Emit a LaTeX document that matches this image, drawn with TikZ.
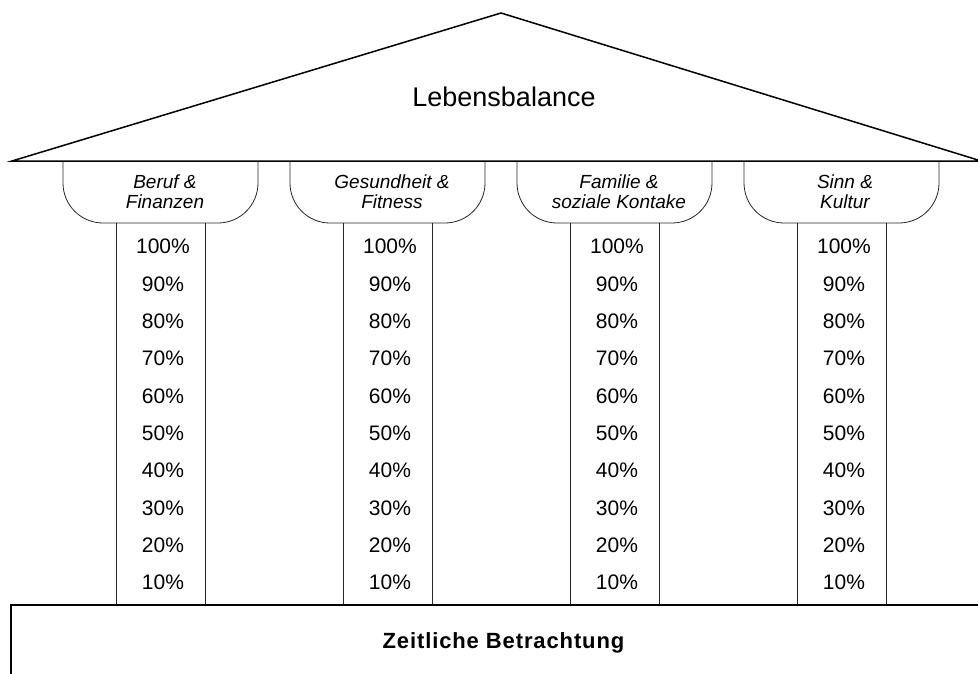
\documentclass[tikz,border=0pt]{standalone}
\usepackage{fontspec}
\setmainfont{Liberation Sans}
\usetikzlibrary{matrix, positioning}

\begin{document}
\begin{tikzpicture}[x=1pt, y=-1pt,
		heavy/.style={line width=1.5pt},
		pillarline/.style={line width=0.8pt, black!85},
		captext/.style={align=center, inner sep=0pt, font=\fontsize{19}{20}\selectfont\itshape}]
		\useasboundingbox (0,0) rectangle (978,673);
		\clip (0,0) rectangle (978,673);
		
		\draw[heavy] (978,160) -- (501,13) -- (12,161) -- (980,161);
		\node[inner sep=0pt, font=\fontsize{27}{30}\selectfont] (roof) at (504,97) {Lebensbalance};
		
		\draw[pillarline, rounded corners=40pt] (63,161) -- (63,223) -- (258,223) -- (258,161);
		\draw[pillarline, rounded corners=40pt] (290,161) -- (290,223) -- (485,223) -- (485,161);
		\draw[pillarline, rounded corners=40pt] (517,161) -- (517,223) -- (712,223) -- (712,161);
		\draw[pillarline, rounded corners=40pt] (744,161) -- (744,223) -- (939,223) -- (939,161);
		
		\draw[pillarline] (116,223) -- (116,605) (205,223) -- (205,605);
		\draw[pillarline] (343,223) -- (343,605) (432,223) -- (432,605);
		\draw[pillarline] (570,223) -- (570,605) (659,223) -- (659,605);
		\draw[pillarline] (797,223) -- (797,605) (886,223) -- (886,605);
		
		\node[captext] (cap1) at (165,192) {Beruf \&\\Finanzen};
		\node[captext] (cap2) at (392,192) {Gesundheit \&\\Fitness};
		\node[captext] (cap3) at (619,192) {Familie \&\\soziale Kontake};
		\node[captext] (cap4) at (845,192) {Sinn \&\\Kultur};
		
		\matrix (m) [matrix of nodes,
		nodes={minimum width=227pt, minimum height=37.33pt, inner sep=0pt, anchor=center, font=\fontsize{21}{24}\selectfont},
		column sep=0pt, row sep=0pt] at (503.5,414.5) {
			100\% & 100\% & 100\% & 100\% \\
			90\% & 90\% & 90\% & 90\% \\
			80\% & 80\% & 80\% & 80\% \\
			70\% & 70\% & 70\% & 70\% \\
			60\% & 60\% & 60\% & 60\% \\
			50\% & 50\% & 50\% & 50\% \\
			40\% & 40\% & 40\% & 40\% \\
			30\% & 30\% & 30\% & 30\% \\
			20\% & 20\% & 20\% & 20\% \\
			10\% & 10\% & 10\% & 10\% \\
		};
		
		\draw[heavy] (11,690) -- (11,605) -- (990,605);
		\node[anchor=base, inner sep=0pt, font=\fontsize{22}{25}\selectfont\bfseries\addfontfeature{LetterSpace=4}] (base) at (503.5,648) {Zeitliche Betrachtung};
	\end{tikzpicture}
\end{document}
